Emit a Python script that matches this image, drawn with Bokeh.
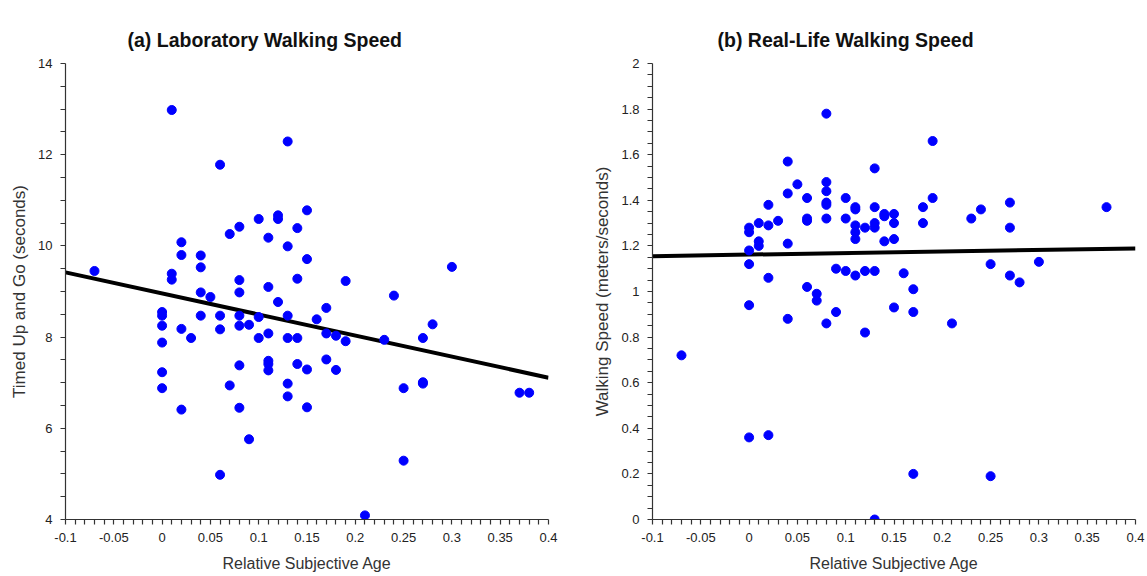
import numpy as np
from bokeh.plotting import figure
from bokeh.layouts import row
from bokeh.models import Range1d, FixedTicker, CustomJSTickFormatter, Title
from bokeh.embed import file_html
from bokeh.resources import INLINE

# ---- (a) Laboratory walking speed: Timed Up and Go ----
lab_rsa = [-0.07, 0.01, 0.13, 0.06, 0.15, 0.10, 0.12, 0.12, 0.08, 0.07,
           0.14, 0.11, 0.13, 0.02, 0.02, 0.04, 0.04, 0.15, 0.01, 0.01,
           0.08, 0.14, 0.04, 0.05, 0.08, 0.11, 0.12, 0.00, 0.00, 0.04,
           0.06, 0.08, 0.10, 0.13, 0.19, 0.30, 0.24, 0.17, 0.16, 0.00,
           0.02, 0.06, 0.08, 0.09, 0.03, 0.10, 0.11, 0.13, 0.14, 0.00,
           0.08, 0.11, 0.11, 0.11, 0.14, 0.15, 0.00, 0.07, 0.13, 0.13,
           0.00, 0.02, 0.08, 0.15, 0.09, 0.06, 0.28, 0.17, 0.18, 0.19,
           0.23, 0.27, 0.17, 0.18, 0.25, 0.27, 0.27, 0.37, 0.38, 0.25,
           0.21]
lab_tug = [9.45, 12.98, 12.29, 11.78, 10.78, 10.59, 10.67, 10.59, 10.42, 10.26,
           10.39, 10.18, 9.99, 10.08, 9.80, 9.79, 9.53, 9.71, 9.39, 9.26,
           9.25, 9.28, 8.98, 8.88, 8.98, 9.10, 8.77, 8.55, 8.47, 8.47,
           8.47, 8.47, 8.44, 8.47, 9.23, 9.54, 8.91, 8.64, 8.39, 8.25,
           8.18, 8.17, 8.25, 8.27, 7.98, 7.98, 8.08, 7.98, 7.98, 7.88,
           7.38, 7.48, 7.41, 7.27, 7.41, 7.29, 7.23, 6.94, 6.98, 6.70,
           6.88, 6.41, 6.45, 6.46, 5.76, 4.98, 8.28, 8.08, 8.03, 7.91,
           7.94, 7.98, 7.51, 7.28, 6.88, 7.01, 6.98, 6.78, 6.78, 5.29,
           4.09]
lab_fit_x = [-0.1, 0.4]
lab_fit_y = [9.42, 7.11]

# ---- (b) Real-life walking speed ----
life_rsa = [0.08, 0.04, 0.13, 0.08, 0.05, 0.08, 0.04, 0.06, 0.10, 0.08,
            0.08, 0.02, 0.11, 0.11, 0.13, 0.14, 0.14, 0.06, 0.06, 0.08,
            0.10, 0.03, 0.01, 0.02, 0.11, 0.13, 0.13, 0.12, 0.00, 0.00,
            0.11, 0.11, 0.14, 0.01, 0.01, 0.04, 0.00, 0.00, 0.09, 0.10,
            0.11, 0.12, 0.13, 0.02, 0.06, 0.07, 0.07, 0.00, 0.09, 0.04,
            0.19, 0.19, 0.27, 0.37, 0.18, 0.24, 0.15, 0.15, 0.18, 0.23,
            0.27, 0.15, 0.25, 0.30, 0.16, 0.27, 0.28, 0.17, 0.15, 0.17,
            0.21, 0.08, 0.12, -0.07, 0.00, 0.02, 0.13, 0.17, 0.25]
life_speed = [1.78, 1.57, 1.54, 1.48, 1.47, 1.44, 1.43, 1.41, 1.41, 1.39,
              1.38, 1.38, 1.37, 1.36, 1.37, 1.34, 1.33, 1.32, 1.31, 1.32,
              1.32, 1.31, 1.30, 1.29, 1.29, 1.30, 1.28, 1.28, 1.28, 1.26,
              1.26, 1.23, 1.22, 1.22, 1.20, 1.21, 1.18, 1.12, 1.10, 1.09,
              1.07, 1.09, 1.09, 1.06, 1.02, 0.99, 0.96, 0.94, 0.91, 0.88,
              1.66, 1.41, 1.39, 1.37, 1.37, 1.36, 1.34, 1.30, 1.30, 1.32,
              1.28, 1.23, 1.12, 1.13, 1.08, 1.07, 1.04, 1.01, 0.93, 0.91,
              0.86, 0.86, 0.82, 0.72, 0.36, 0.37, 0.00, 0.20, 0.19]
life_fit_x = [-0.1, 0.4]
life_fit_y = [1.155, 1.189]

x_label = "Relative Subjective Age"
titles = ["(a) Laboratory Walking Speed", "(b) Real-Life Walking Speed"]
y_labels = ["Timed Up and Go (seconds)", "Walking Speed (meters/seconds)"]

FONT = "Liberation Sans"
fmt_code = """
const r = tick / step;
if (Math.abs(r - Math.round(r)) > 1e-6) { return ""; }
return String(Number(tick.toFixed(3)));
"""


def set_axis(ax, lo, hi, label_step, tick_step):
    ticks = [float(v) for v in np.round(np.arange(lo, hi + tick_step / 2, tick_step), 4)]
    ax.ticker = FixedTicker(ticks=ticks)
    ax.formatter = CustomJSTickFormatter(args=dict(step=label_step), code=fmt_code)
    ax.axis_line_color = "#333333"
    ax.axis_line_width = 1.2
    ax.major_tick_line_color = "#333333"
    ax.major_tick_line_width = 1.2
    ax.major_tick_out = 5
    ax.major_tick_in = 0
    ax.minor_tick_line_color = None
    ax.major_label_text_font = FONT
    ax.major_label_text_font_size = "13px"
    ax.major_label_text_color = "#222222"
    ax.axis_label_text_font = FONT
    ax.axis_label_text_font_style = "normal"
    ax.axis_label_text_color = "#333333"
    ax.major_label_standoff = 8


def style(p, y_lo, y_hi, y_step, y_tick):
    set_axis(p.xaxis[0], -0.1, 0.4, 0.05, 0.01)
    set_axis(p.yaxis[0], y_lo, y_hi, y_step, y_tick)
    p.xaxis.axis_label_text_font_size = "16px"
    p.yaxis.axis_label_text_font_size = "17px"
    p.xaxis.axis_label_standoff = 10
    p.yaxis.axis_label_standoff = 6
    p.xgrid.visible = False
    p.ygrid.visible = False
    p.outline_line_color = None


def make_title(text, offset):
    return Title(text=text, align="left", offset=offset, standoff=26,
                 text_font=FONT, text_font_style="bold", text_font_size="19.5px",
                 text_color="#111111")


p1 = figure(width=560, height=576, output_backend="svg", toolbar_location=None,
            x_range=Range1d(-0.1, 0.4), y_range=Range1d(4, 14),
            min_border_left=65, min_border_right=12, min_border_top=63, min_border_bottom=57,
            x_axis_label=x_label, y_axis_label=y_labels[0])
p1.title = make_title(titles[0], 62)
p1.line(lab_fit_x, lab_fit_y, line_color="black", line_width=4)
p1.scatter(lab_rsa, lab_tug, size=9, fill_color="#0000ff", line_color="#0000ff")
style(p1, 4, 14, 2, 0.5)

p2 = figure(width=587, height=576, output_backend="svg", toolbar_location=None,
            x_range=Range1d(-0.1, 0.4), y_range=Range1d(0, 2),
            min_border_left=92, min_border_right=12, min_border_top=63, min_border_bottom=57,
            x_axis_label=x_label, y_axis_label=y_labels[1])
p2.title = make_title(titles[1], 65)
p2.line(life_fit_x, life_fit_y, line_color="black", line_width=4)
p2.scatter(life_rsa, life_speed, size=9, fill_color="#0000ff", line_color="#0000ff")
style(p2, 0, 2, 0.2, 0.05)

layout = row(p1, p2)
open("out.html", "w").write(file_html(layout, INLINE))
